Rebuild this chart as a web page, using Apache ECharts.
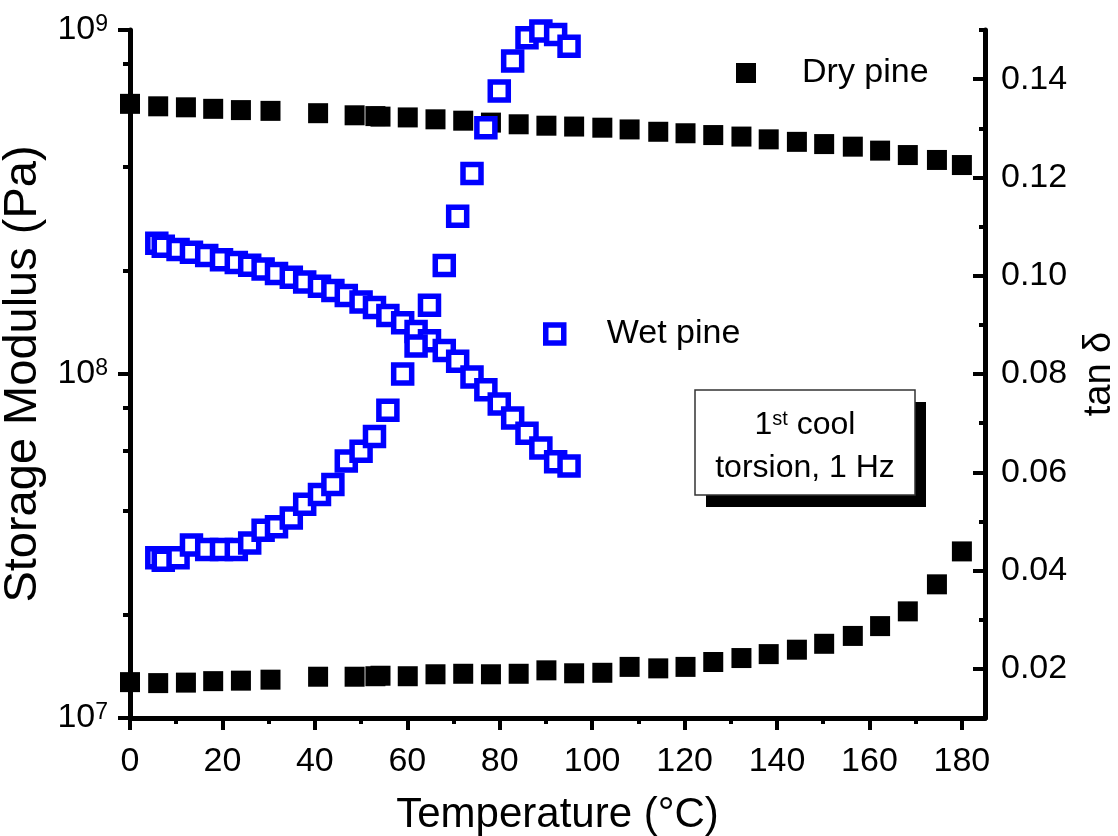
<!DOCTYPE html>
<html><head><meta charset="utf-8">
<script src="https://cdn.jsdelivr.net/npm/echarts@6/dist/echarts.min.js"></script>
<style>html,body{margin:0;padding:0;background:#fff}#c{width:1118px;height:836px}</style>
</head><body><div id="c"></div>
<script>
// ---- data ----
const tempDry = [0, 6.1, 12.1, 18, 24, 30.4, 40.7, 48.6, 53.1, 54.2, 60.1, 66.1, 72.1, 78.1, 84.1, 90.1, 96.1,
  102.2, 108.1, 114.3, 120.2, 126.2, 132.3, 138.2, 144.3, 150.2, 156.4, 162.3, 168.3, 174.6, 180];
const dryModulus = [6.1e8, 6.0e8, 5.96e8, 5.9e8, 5.85e8, 5.82e8, 5.73e8, 5.65e8, 5.62e8, 5.6e8, 5.57e8, 5.5e8,
  5.45e8, 5.38e8, 5.32e8, 5.27e8, 5.24e8, 5.2e8, 5.14e8, 5.06e8, 5.01e8, 4.95e8, 4.9e8, 4.81e8, 4.73e8, 4.66e8,
  4.58e8, 4.46e8, 4.33e8, 4.19e8, 4.05e8];
const dryTanDelta = [0.0173, 0.0171, 0.0172, 0.0175, 0.0176, 0.0178, 0.0184, 0.0184, 0.0185, 0.0186, 0.0185,
  0.0189, 0.0190, 0.0189, 0.0190, 0.0197, 0.0191, 0.0192, 0.0204, 0.0201, 0.0204, 0.0214, 0.0222, 0.0230,
  0.0239, 0.0251, 0.0267, 0.0287, 0.0317, 0.0372, 0.0439];
const tempWet = [5.8, 7.2, 10.4, 13.3, 16.6, 19.8, 23.0, 25.9, 28.8, 31.7, 34.9, 37.8, 41.0, 43.9, 46.8, 50.0,
  52.9, 55.8, 59.0, 61.9, 64.8, 68.0, 70.9, 74.0, 77.0, 79.9, 82.8, 85.9, 88.9, 92.1, 95.0];
const wetModulus = [2.40e8, 2.35e8, 2.30e8, 2.26e8, 2.21e8, 2.15e8, 2.11e8, 2.07e8, 2.02e8, 1.96e8, 1.91e8,
  1.85e8, 1.80e8, 1.75e8, 1.69e8, 1.62e8, 1.56e8, 1.48e8, 1.41e8, 1.33e8, 1.25e8, 1.17e8, 1.09e8, 9.8e7,
  9.0e7, 8.18e7, 7.45e7, 6.73e7, 6.09e7, 5.56e7, 5.40e7];
const wetTanDelta = [0.0426, 0.0421, 0.0426, 0.0452, 0.0443, 0.0443, 0.0443, 0.0456, 0.0482, 0.0489, 0.0507,
  0.0535, 0.0555, 0.0575, 0.0623, 0.0643, 0.0673, 0.0726, 0.0800, 0.0857, 0.0940, 0.1021, 0.1121, 0.1208,
  0.1301, 0.1376, 0.1437, 0.1484, 0.1498, 0.1491, 0.1467];

const xMajorTicks = [0, 20, 40, 60, 80, 100, 120, 140, 160, 180];
const xMinorTicks = [10, 30, 50, 70, 90, 110, 130, 150, 170];
const modulusMinorTicks = [2e7, 4e7, 6e7, 8e7, 2e8, 4e8, 6e8, 8e8];
const tanMajorTicks = [0.02, 0.04, 0.06, 0.08, 0.10, 0.12, 0.14];
const tanMinorTicks = [0.01, 0.03, 0.05, 0.07, 0.09, 0.11, 0.13, 0.15];

const FONT = '"Liberation Sans", Arial, Helvetica, sans-serif';
const zip = (xs, ys) => xs.map((x, i) => [x, ys[i]]);

const chart = echarts.init(document.getElementById('c'), null, {renderer: 'canvas'});

const blackSym = {symbol: 'rect', symbolSize: 20, itemStyle: {color: '#000', opacity: 1}};
const blueSym = {symbol: 'rect', symbolSize: 18, itemStyle: {color: '#fff', borderColor: '#0000ff', borderWidth: 5.5, opacity: 1}};

chart.setOption({
  animation: false,
  backgroundColor: '#fff',
  textStyle: {fontFamily: FONT, color: '#000'},
  grid: {left: 130, right: 133, top: 30, bottom: 118, containLabel: false, outerBoundsMode: 'none'},
  legend: [
    {data: ['Dry pine'], left: 736, top: 56, padding: 0, itemWidth: 20, itemHeight: 20, selectedMode: false,
      textStyle: {fontSize: 34, fontFamily: FONT, color: '#000', padding: [0, 0, 0, 41]}},
    {data: ['Wet pine'], left: 543, top: 317, padding: 0, itemWidth: 18, itemHeight: 18, selectedMode: false,
      itemStyle: {color: '#fff', borderColor: '#0000ff', borderWidth: 5.5},
      textStyle: {fontSize: 34, fontFamily: FONT, color: '#000', padding: [0, 0, 0, 38]}}
  ],
  xAxis: [
    {type: 'value', min: 0, max: 185, position: 'bottom',
      axisLine: {show: true, onZero: false, lineStyle: {color: '#000', width: 5}},
      axisTick: {show: true, inside: false, length: 12, customValues: xMajorTicks, lineStyle: {color: '#000', width: 4}},
      axisLabel: {customValues: xMajorTicks, fontSize: 34, color: '#000', fontFamily: FONT, margin: 27},
      splitLine: {show: false},
      name: 'Temperature (°C)', nameLocation: 'middle', nameGap: 76,
      nameTextStyle: {fontSize: 42, color: '#000', fontFamily: FONT}},
    {type: 'value', min: 0, max: 185, position: 'bottom',
      axisLine: {show: false, onZero: false},
      axisTick: {show: true, inside: false, length: 6, customValues: xMinorTicks, lineStyle: {color: '#000', width: 4}},
      axisLabel: {show: false}, splitLine: {show: false}}
  ],
  yAxis: [
    {type: 'log', logBase: 10, min: 1e7, max: 1e9, position: 'left',
      axisLine: {show: true, onZero: false, lineStyle: {color: '#000', width: 5}},
      axisTick: {show: true, inside: false, length: 12, lineStyle: {color: '#000', width: 4}},
      axisLabel: {fontSize: 34, color: '#000', fontFamily: FONT, margin: 22,
        formatter: v => '{b|10}{s|' + Math.round(Math.log10(v)) + '}',
        rich: {b: {fontSize: 34, fontFamily: FONT, color: '#000', lineHeight: 34},
               s: {fontSize: 23, fontFamily: FONT, color: '#000', verticalAlign: 'top', lineHeight: 23, padding: [0, 0, 6, 0]}}},
      splitLine: {show: false}, minorTick: {show: false},
      name: 'Storage Modulus (Pa)', nameLocation: 'middle', nameGap: 74, nameRotate: 90,
      nameTextStyle: {fontSize: 47, color: '#000', fontFamily: FONT}},
    {type: 'log', logBase: 10, min: 1e7, max: 1e9, position: 'left',
      axisLine: {show: false, onZero: false},
      axisTick: {show: true, inside: false, length: 7, customValues: modulusMinorTicks, lineStyle: {color: '#000', width: 4}},
      axisLabel: {show: false}, splitLine: {show: false}},
    {type: 'value', min: 0.01, max: 0.15, position: 'right',
      axisLine: {show: true, onZero: false, lineStyle: {color: '#000', width: 5}},
      axisTick: {show: true, inside: true, length: 12, customValues: tanMajorTicks, lineStyle: {color: '#000', width: 4}},
      axisLabel: {customValues: tanMajorTicks, fontSize: 34, color: '#000', fontFamily: FONT, margin: 16,
        formatter: v => v.toFixed(2)},
      splitLine: {show: false},
      name: 'tan δ', nameLocation: 'middle', nameGap: 96, nameRotate: 90,
      nameTextStyle: {fontSize: 38, color: '#000', fontFamily: FONT}},
    {type: 'value', min: 0.01, max: 0.15, position: 'right',
      axisLine: {show: false, onZero: false},
      axisTick: {show: true, inside: true, length: 6, customValues: tanMinorTicks, lineStyle: {color: '#000', width: 4}},
      axisLabel: {show: false}, splitLine: {show: false}}
  ],
  series: [
    Object.assign({type: 'scatter', name: 'Dry pine', xAxisIndex: 0, yAxisIndex: 0, data: zip(tempDry, dryModulus), clip: false, z: 2}, blackSym),
    Object.assign({type: 'scatter', name: 'Dry pine', xAxisIndex: 0, yAxisIndex: 2, data: zip(tempDry, dryTanDelta), clip: false, z: 2}, blackSym),
    Object.assign({type: 'scatter', name: 'Wet pine', xAxisIndex: 0, yAxisIndex: 0, data: zip(tempWet, wetModulus), clip: false, z: 3}, blueSym),
    Object.assign({type: 'scatter', name: 'Wet pine', xAxisIndex: 0, yAxisIndex: 2, data: zip(tempWet, wetTanDelta), clip: false, z: 3}, blueSym)
  ],
  graphic: [
    {type: 'rect', z: 10, shape: {x: 706, y: 402, width: 220, height: 105}, style: {fill: '#000'}},
    {type: 'rect', z: 11, shape: {x: 695, y: 390, width: 220, height: 105}, style: {fill: '#fff', stroke: '#333', lineWidth: 1.5}},
    {type: 'text', z: 12, x: 805, y: 425, style: {text: '{n|1}{s|st}{n| cool}', align: 'center', verticalAlign: 'middle',
      rich: {n: {fontSize: 32, fontFamily: FONT, fill: '#000', lineHeight: 32},
             s: {fontSize: 20, fontFamily: FONT, fill: '#000', verticalAlign: 'top', lineHeight: 20, padding: [0, 0, 4, 0]}}}},
    {type: 'text', z: 12, x: 805, y: 468, style: {text: 'torsion, 1 Hz', fontSize: 32, fontFamily: FONT, fill: '#000',
      align: 'center', verticalAlign: 'middle'}}
  ]
});
</script></body></html>
